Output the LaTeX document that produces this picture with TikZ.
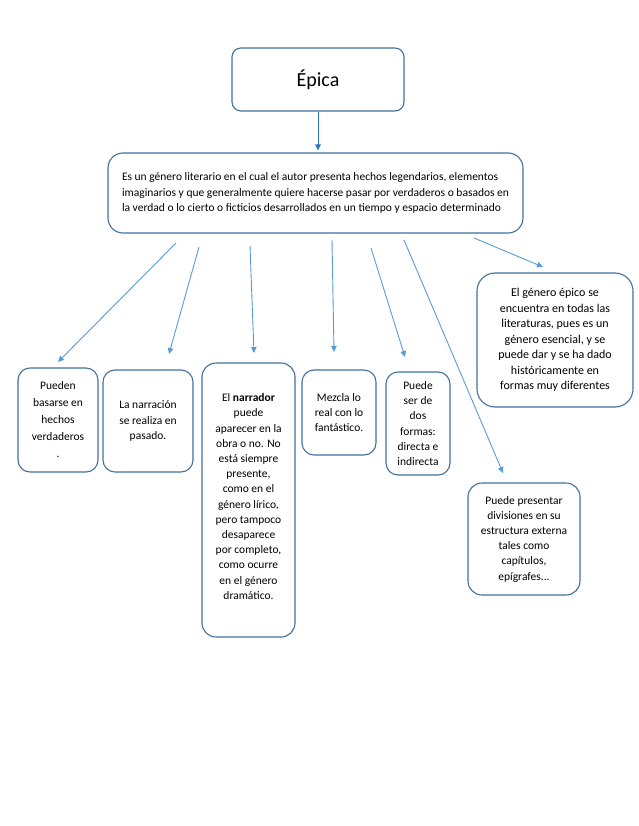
\documentclass[tikz,border=0pt]{standalone}
\usepackage{fontspec}
\setmainfont{Carlito}
\usetikzlibrary{arrows.meta}
\definecolor{boxline}{HTML}{41719C}
\definecolor{arrowc}{HTML}{5B9BD5}
\definecolor{arrowd}{HTML}{2E75B6}
\tikzset{
  box/.style={draw=boxline, line width=1.1pt, rounded corners=12pt, fill=white, align=center, inner sep=0pt, font=\fontsize{11.5}{15.2}\selectfont},
  txt/.style={align=center, inner sep=0pt, font=\fontsize{11.5}{15.2}\selectfont},
  arr/.style={draw=arrowc, line width=0.9pt, -{Triangle[width=5.5pt,length=6pt]}},
  arrd/.style={draw=arrowd, line width=1pt, -{Triangle[width=5.5pt,length=6pt]}},
}
\begin{document}
\begin{tikzpicture}[x=1pt,y=-1pt]
\useasboundingbox[fill=white] (0,0) rectangle (638,826);

\node[box, minimum width=172pt, minimum height=63pt, rounded corners=9pt, font=\fontsize{20}{24}\selectfont] (epica) at (318,79.5) {Épica};

\node[box, minimum width=415pt, minimum height=80pt, rounded corners=15pt, align=left, font=\fontsize{11.5}{15.7}\selectfont] (main) at (315.5,193) {Es un género literario en el cual el autor presenta hechos legendarios, elementos\\imaginarios y que generalmente quiere hacerse pasar por verdaderos o basados en\\la verdad o lo cierto o ficticios desarrollados en un tiempo y espacio determinado};

\node[box, minimum width=80pt, minimum height=104pt, font=\fontsize{11.5}{17}\selectfont] (b1) at (58,420) {Pueden\\basarse en\\hechos\\verdaderos\\.};
\node[box, minimum width=90pt, minimum height=102pt] (b2) at (148,421) {La narración\\se realiza en\\pasado.};
\node[box, minimum width=93pt, minimum height=274pt, rounded corners=14pt] (b3) at (248.5,500) {};
\node[txt] (b3t) at (248.5,496.5) {El \textbf{narrador}\\puede\\aparecer en la\\obra o no. No\\está siempre\\presente,\\como en el\\género lírico,\\pero tampoco\\desaparece\\por completo,\\como ocurre\\en el género\\dramático.};
\node[box, minimum width=74pt, minimum height=85pt] (b4) at (339,412.5) {Mezcla lo\\real con lo\\fantástico.};
\node[box, minimum width=64pt, minimum height=103pt] (b5) at (418,423.5) {Puede\\ser de\\dos\\formas:\\directa e\\indirecta};
\node[box, minimum width=156pt, minimum height=134pt, rounded corners=18pt, font=\fontsize{12}{15.5}\selectfont] (b6) at (555,340) {El género épico se\\encuentra en todas las\\literaturas, pues es un\\género esencial, y se\\puede dar y se ha dado\\históricamente en\\formas muy diferentes};
\node[box, minimum width=112pt, minimum height=112pt, rounded corners=14pt] (b7) at (524,539) {Puede presentar\\divisiones en su\\estructura externa\\tales como\\capítulos,\\epígrafes...};

\draw[arrd, shorten >=2pt] (epica.south) -- (epica.south |- main.north);

\coordinate (s1) at (176,243); \coordinate (t1) at (58,362);
\coordinate (s2) at (199,247); \coordinate (t2) at (169,354);
\coordinate (s3) at (250,246); \coordinate (t3) at (254,353);
\coordinate (s4) at (332,240); \coordinate (t4) at (334,352);
\coordinate (s5) at (371,248); \coordinate (t5) at (405,357);
\coordinate (s6) at (404,240); \coordinate (t6) at (503,473);
\coordinate (s7) at (474,238); \coordinate (t7) at (543,267);
\foreach \i in {1,...,7} { \draw[arr] (s\i) -- (t\i); }
\end{tikzpicture}
\end{document}
